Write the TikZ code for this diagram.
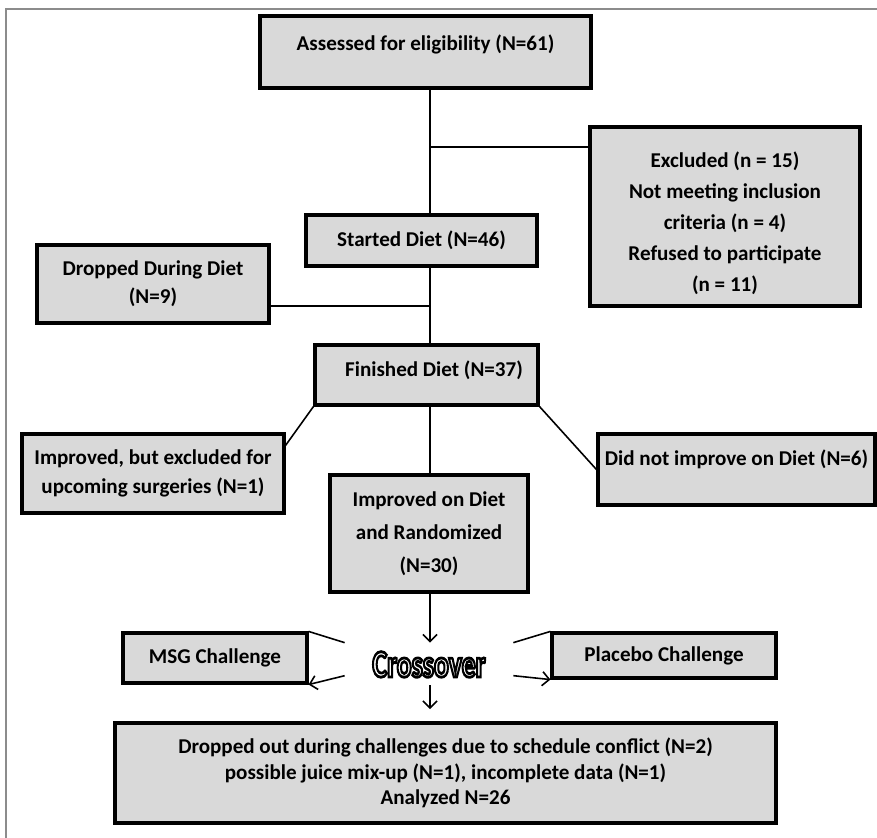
\documentclass[tikz,border=0pt]{standalone}
\usepackage{fontspec}
\setmainfont{Carlito}
\usetikzlibrary{positioning,arrows.meta}
\definecolor{boxgrey}{HTML}{D9D9D9}
\definecolor{framegrey}{HTML}{8C8C8C}
\newcommand{\outlinetext}[1]{\special{pdf:literal direct 0 G 2 Tr 1.6 w}#1\special{pdf:literal direct 0 Tr}}

\begin{document}
\begin{tikzpicture}[x=0.02cm, y=-0.02cm,
    flowbox/.style={draw, line width=1.8pt, fill=boxgrey, align=center,
      font=\bfseries\fontsize{12}{16}\selectfont, inner sep=2pt},
    link/.style={line width=0.9pt},
    linkarrow/.style={link, -{Straight Barb[length=4pt,width=8pt]}}]
  \useasboundingbox (0,0) rectangle (877,838);
  \draw[framegrey, line width=1.2pt] (6,838) -- (6,9) -- (877,9);

  \coordinate (spine) at (430,0);
  \coordinate (exclhook) at (430,147);
  \coordinate (drophook) at (430,306);

  \node[flowbox, minimum width=6.62cm, minimum height=1.44cm, text depth=11pt] (assess) at (425.5,52) {Assessed for eligibility (N=61)};
  \node[flowbox, minimum width=5.40cm, minimum height=3.58cm,
    font=\bfseries\fontsize{12}{17.6}\selectfont] (excl) at (725,216.5)
    {\rule{0pt}{17pt}Excluded (n = 15)\\ Not meeting inclusion\\ criteria (n = 4)\\ Refused to participate\\ (n = 11)};
  \node[flowbox, minimum width=4.62cm, minimum height=1.02cm] (started) at (421.5,240.5) {Started Diet (N=46)};
  \node[flowbox, minimum width=4.64cm, minimum height=1.56cm,
    font=\bfseries\fontsize{12}{15.9}\selectfont] (dropped) at (153,284) {Dropped During Diet\\ (N=9)};
  \node[flowbox, minimum width=4.46cm, minimum height=1.2cm, text depth=7pt] (finished) at (426.5,375) {\hspace*{0.3cm}Finished Diet (N=37)};
  \node[flowbox, minimum width=5.24cm, minimum height=1.58cm,
    font=\bfseries\fontsize{12}{16.4}\selectfont] (impexcl) at (153,473.5) {Improved, but excluded for\\ upcoming surgeries (N=1)};
  \node[flowbox, minimum width=5.54cm, minimum height=1.42cm, text depth=13.8pt] (notimp) at (736.5,469.5) {Did not improve on Diet (N=6)};
  \node[flowbox, minimum width=3.96cm, minimum height=2.34cm,
    font=\bfseries\fontsize{12}{18.7}\selectfont] (impdiet) at (429,533.5) {Improved on Diet\\ and Randomized\\ (N=30)};
  \node[flowbox, minimum width=3.68cm, minimum height=1.0cm] (msg) at (215,658) {MSG Challenge};
  \node[flowbox, minimum width=4.48cm, minimum height=0.9cm] (placebo) at (664,655.5) {Placebo Challenge};
  \node[text=white, minimum width=3.36cm, minimum height=0.84cm, inner sep=0pt] (cross) at (429,664)
    {\raisebox{-0.26cm}[0pt][0pt]{\fontsize{22}{22}\selectfont\bfseries\scalebox{0.72}[1]{\outlinetext{Crossover}}}};
  \node[flowbox, minimum width=13.22cm, minimum height=2.0cm,
    font=\bfseries\fontsize{12}{14.7}\selectfont] (bottom) at (445.5,773)
    {Dropped out during challenges due to schedule conflict (N=2)\\ possible juice mix-up (N=1), incomplete data (N=1)\\ Analyzed N=26};

  \draw[link] (assess.south -| spine) -- (started.north -| spine);
  \draw[link] (exclhook) -- (exclhook -| excl.west);
  \draw[link] (started.south -| spine) -- (finished.north -| spine);
  \draw[link] (drophook) -- (drophook -| dropped.east);
  \draw[link] (finished.south west) -- ([yshift=-7.4pt]impexcl.north east);
  \draw[link] (finished.south east) -- (notimp.west);
  \draw[link] (finished.south -| spine) -- (impdiet.north -| spine);
  \draw[linkarrow] (impdiet.south -| spine) -- (cross.north -| spine);
  \draw[link] (msg.north east) -- (cross.north west);
  \draw[linkarrow] ([yshift=5.5pt]cross.south west) -- (msg.south east);
  \draw[link] (cross.north east) -- (placebo.north west);
  \draw[linkarrow] ([yshift=5.5pt]cross.south east) -- (placebo.south west);
  \draw[linkarrow, shorten >=7pt] (cross.south -| spine) -- (bottom.north -| spine);
\end{tikzpicture}
\end{document}
